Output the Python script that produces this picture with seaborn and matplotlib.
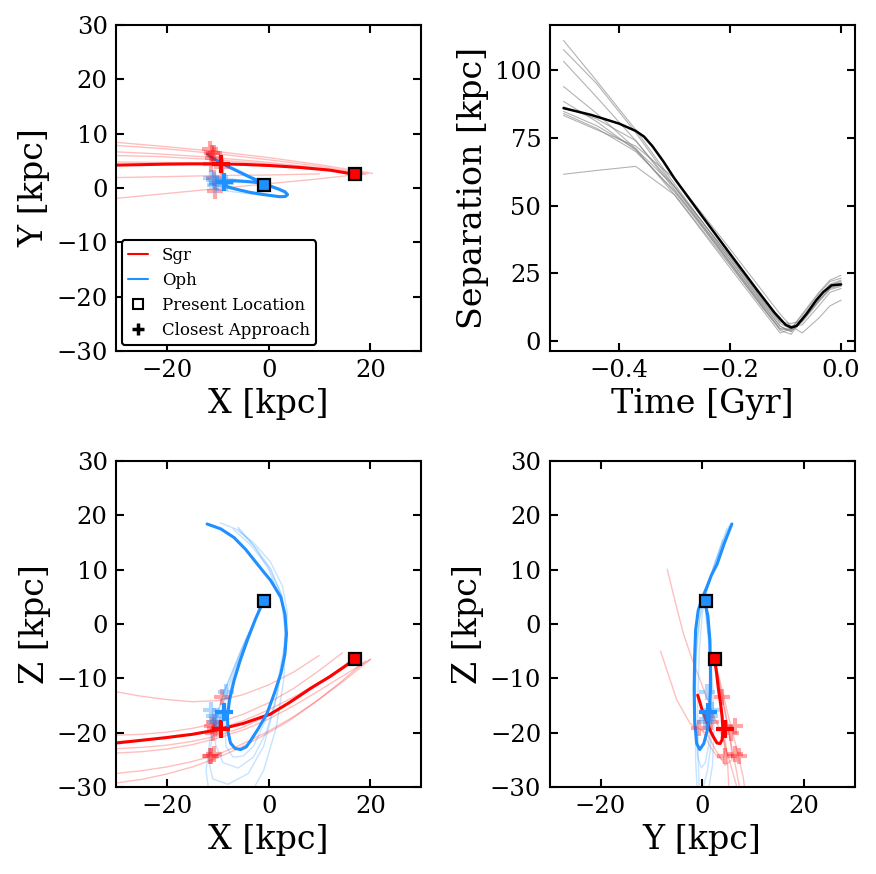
import matplotlib
matplotlib.use("Agg")
from matplotlib import pyplot as plt
from matplotlib.lines import Line2D
import seaborn as sns

# ---------------- data ----------------
SGR_COLOR = "red"
OPH_COLOR = "dodgerblue"

# present locations (x, y, z) [kpc]
sgr_now = (17.0, 2.5, -6.4)
oph_now = (-1.0, 0.65, 4.3)

# closest approach of the fiducial orbits
sgr_ca = (-9.4, 4.4, -19.3)
oph_ca = (-8.8, 1.1, -16.2)

# closest approaches of the sampled orbits
sgr_ca_x = [-9.1, -11.2, -11.0, -11.5, -10.8, -11.3, -10.5, -10.8]
sgr_ca_y = [3.9, 6.5, 5.6, 7.2, 6.5, 4.5, -0.6, 1.8]
sgr_ca_z = [-13.4, -18.8, -20.0, -24.2, -24.0, -24.3, -19.2, -18.0]
oph_ca_x = [-8.3, -10.8, -10.5, -11.3, -10.2]
oph_ca_y = [0.9, 1.5, 0.5, 1.9, 1.0]
oph_ca_z = [-12.5, -17.0, -18.0, -15.8, -17.5]

# ---- X-Y projection ----
sgr_xy_x = [17.0, 12.0, 6.0, 0.0, -5.0, -10.0, -15.0, -20.0, -25.0, -31.0]
sgr_xy_y = [2.5, 3.3, 3.8, 4.15, 4.35, 4.45, 4.45, 4.4, 4.3, 4.2]
oph_xy_x = [-1.0, -3.0, -5.0, -7.0, -8.2, -8.6, -8.0, -6.0, -3.7, -1.0, 1.0, 2.2,
            3.3, 3.7, 3.2, 2.0, 0.9, -1.0, -3.7, -6.0, -8.3, -10.3, -12.1]
oph_xy_y = [0.8, 1.1, 1.25, 1.35, 1.3, 0.8, 0.2, -0.3, -0.8, -1.2, -1.45, -1.6,
            -1.55, -1.2, -0.7, -0.2, 0.15, 0.9, 2.0, 3.05, 4.1, 5.1, 6.2]

sgr_xy_samples = [
    ([20.4, 10.0, 0.0, -10.0, -20.0, -31.0], [2.7, 4.3, 5.6, 6.7, 7.6, 8.5]),
    ([19.5, 10.0, 0.0, -10.0, -20.0, -31.0], [2.6, 4.0, 5.2, 6.3, 7.2, 7.9]),
    ([18.5, 8.0, -2.0, -12.0, -22.0, -31.0], [2.6, 3.9, 4.9, 5.7, 6.3, 6.7]),
    ([18.0, 8.0, -2.0, -12.0, -22.0, -31.0], [2.5, 3.7, 4.6, 5.3, 5.8, 6.0]),
    ([10.0, 0.0, -10.0, -20.0, -31.0], [2.6, 2.4, 2.3, 2.1, 1.9]),
    ([17.5, 10.0, 0.0, -10.0, -20.0, -31.0], [2.5, 1.7, 0.8, -0.1, -1.0, -2.0]),
    ([19.0, 10.0, 0.0, -10.0, -20.0, -31.0], [2.5, 3.4, 4.1, 4.5, 4.7, 4.8]),
]
oph_xy_samples = [
    ([-1.0, -4.0, -7.5, -10.0, -11.2, -10.8, -8.5, -5.0, -1.5, 1.5, 3.2, 3.6, 2.5, 0.5, -2.0, -5.0],
     [0.8, 1.2, 1.5, 1.6, 1.3, 0.6, 0.0, -0.6, -1.1, -1.5, -1.5, -1.1, -0.3, 0.4, 1.3, 2.6]),
    ([-1.0, -4.5, -8.0, -10.8, -12.0, -11.6, -9.0, -5.5, -2.0, 1.0, 3.0, 3.5, 2.6, 0.8, -1.5],
     [0.8, 1.3, 1.8, 2.1, 1.8, 1.0, 0.2, -0.5, -1.0, -1.4, -1.5, -1.1, -0.4, 0.3, 1.1]),
    ([-1.0, -4.2, -7.8, -10.5, -11.8, -11.5, -9.5, -6.0, -2.5, 0.8, 2.9, 3.6, 3.0, 1.2, -1.0, -4.0, -7.0],
     [0.8, 1.0, 1.1, 1.0, 0.6, 0.0, -0.4, -0.8, -1.2, -1.5, -1.7, -1.4, -0.8, -0.1, 0.8, 2.0, 3.4]),
    ([-1.0, -4.0, -7.2, -9.0, -9.5, -8.5, -6.0, -3.0, 0.0, 2.5, 3.9, 3.4, 1.5, -0.5, -3.5, -7.0, -10.0],
     [0.8, 1.2, 1.5, 1.6, 1.2, 0.5, -0.2, -0.8, -1.3, -1.7, -1.4, -0.6, 0.1, 0.9, 2.2, 3.8, 5.0]),
]

# ---- X-Z projection ----
sgr_xz_x = [17.0, 14.8, 12.0, 8.3, 4.0, 0.3, -5.0, -10.2, -15.0, -20.1, -25.0, -31.0]
sgr_xz_z = [-6.4, -7.9, -9.7, -11.8, -14.5, -16.6, -18.3, -19.5, -20.3, -20.9, -21.4, -22.0]
oph_xz_x = [-1.0, -2.6, -4.2, -5.6, -6.8, -7.7, -8.1, -8.0, -7.5, -6.6, -5.5, -4.4, -3.5,
            -2.0, -0.3, 1.1, 2.4, 3.2, 3.5, 3.2, 2.4, 0.4, -1.0, -2.2, -4.5, -6.8, -9.4, -12.1]
oph_xz_z = [4.3, 0.9, -3.0, -6.7, -10.4, -14.0, -17.1, -19.8, -21.9, -22.9, -23.1, -22.6, -21.4,
            -19.2, -16.4, -12.8, -9.1, -5.5, -1.8, 1.8, 4.9, 8.0, 9.6, 11.0, 13.7, 15.9, 17.5, 18.4]

sgr_xz_samples = [
    ([9.9, 5.0, 0.0, -5.0, -10.0, -15.0, -20.0, -25.0, -31.0],
     [-5.8, -8.8, -11.2, -13.0, -14.1, -14.3, -13.9, -13.3, -12.3]),
    ([14.5, 10.0, 5.0, 0.0, -5.0, -10.0, -15.0, -20.0, -25.0, -31.0],
     [-5.3, -8.5, -11.8, -14.5, -16.6, -18.2, -19.2, -19.9, -20.3, -20.5]),
    ([17.5, 12.0, 6.0, 0.0, -5.0, -10.0, -15.0, -20.0, -25.0, -31.0],
     [-6.6, -9.6, -12.9, -15.8, -17.8, -19.3, -20.3, -21.0, -21.4, -21.7]),
    ([16.5, 12.0, 6.0, 0.0, -5.0, -10.0, -15.0, -20.0, -25.0, -31.0],
     [-6.6, -9.5, -13.5, -16.8, -19.0, -20.6, -21.6, -22.3, -22.7, -23.0]),
    ([20.0, 15.0, 10.0, 5.0, 0.0, -5.0, -10.0, -15.0, -20.0, -25.0, -31.0],
     [-6.5, -9.3, -12.2, -15.0, -17.5, -19.5, -21.0, -22.2, -23.0, -23.5, -23.8]),
    ([20.0, 15.0, 10.0, 5.0, 0.0, -5.0, -10.0, -15.0, -20.0, -25.0, -31.0],
     [-6.5, -10.3, -13.8, -17.0, -19.7, -22.0, -24.0, -25.3, -26.3, -27.0, -27.6]),
    ([19.0, 14.0, 9.0, 4.0, 0.0, -5.0, -10.0, -15.0, -20.0, -25.0, -31.0],
     [-6.8, -10.8, -14.5, -17.8, -20.0, -22.5, -24.6, -26.3, -27.6, -28.6, -29.4]),
]
oph_xz_samples = [
    ([-1.0, -4.5, -7.5, -9.5, -10.5, -9.0, -6.0, -3.0, -0.5, 1.5, 3.0, 3.4, 2.5, 0.0, -3.5, -7.0],
     [4.3, -3.0, -10.5, -17.0, -22.0, -25.5, -26.5, -24.5, -20.0, -13.5, -6.0, 0.0, 5.5, 10.5, 14.5, 17.5]),
    ([-1.0, -5.0, -8.5, -10.8, -11.8, -11.0, -8.0, -4.0, -1.0, 1.2, 2.8, 3.3, 2.6, 0.5, -2.5, -6.0],
     [4.3, -4.0, -12.0, -19.0, -25.0, -28.5, -29.5, -27.5, -22.5, -15.0, -7.0, -0.5, 5.0, 10.0, 14.0, 17.5]),
    ([-1.0, -5.3, -9.0, -11.5, -12.3, -11.8, -10.5, -8.0, -4.0, -1.0, 1.5, 3.0, 3.3, 2.5, 0.0, -3.0, -6.0],
     [4.3, -4.5, -13.0, -21.0, -27.0, -30.5, -33.0, -34.0, -32.0, -27.0, -19.0, -10.0, -2.0, 4.5, 10.0, 14.5, 17.8]),
    ([-1.0, -4.4, -7.2, -8.6, -8.4, -7.0, -5.0, -3.0, -0.5, 1.8, 3.3, 3.7, 2.7, 0.3, -3.0, -6.5, -9.5],
     [4.3, -3.0, -10.5, -17.5, -22.5, -24.5, -24.3, -22.5, -17.5, -10.5, -3.0, 2.0, 7.0, 11.5, 15.0, 17.5, 18.6]),
]

# ---- Y-Z projection ----
sgr_yz_y = [2.4, 2.8, 3.2, 3.6, 3.9, 4.05, 3.9, 3.5, 2.9, 2.2, 1.5, 0.9, 0.4, -0.1, -0.5, -0.9]
sgr_yz_z = [-6.3, -9.0, -12.2, -14.7, -17.1, -19.5, -21.3, -22.0, -21.9, -20.8, -19.5, -18.0,
            -16.8, -15.6, -14.3, -13.1]
oph_yz_y = [0.45, 1.1, 1.5, 1.6, 1.6, 1.4, 1.0, 0.3, -0.5, -1.1, -1.5, -1.6, -1.5, -1.3,
            -0.8, 0.0, 0.9, 1.8, 2.9, 4.3, 5.8]
oph_yz_z = [4.3, 1.5, -3.0, -8.0, -12.0, -16.0, -19.5, -22.0, -23.1, -22.0, -18.0, -12.0,
            -6.0, -1.0, 2.5, 4.8, 6.8, 9.0, 11.0, 14.8, 18.4]

sgr_yz_samples = [
    ([2.4, 3.6, 5.0, 6.5, 8.0, 8.6, 7.6, 6.8, 4.2, 1.6, -0.4, -2.0, -3.7, -5.3, -6.9],
     [-6.3, -11.0, -16.5, -22.0, -28.0, -32.0, -33.0, -30.0, -21.4, -15.3, -10.4, -6.5, -1.8, 4.0, 10.1]),
    ([2.4, 3.4, 4.6, 5.6, 5.8, 4.5, 2.5, 0.9, -2.4, -5.0, -8.2],
     [-6.3, -11.0, -16.5, -21.5, -25.0, -26.0, -23.0, -20.1, -18.3, -14.0, -5.0]),
    ([2.4, 3.3, 4.4, 5.4, 6.4, 7.3], [-6.3, -11.0, -16.0, -21.0, -25.5, -30.0]),
    ([2.4, 3.2, 4.0, 4.6, 5.0, 5.2], [-6.3, -11.5, -17.0, -22.0, -26.0, -30.0]),
    ([2.4, 3.0, 3.7, 4.2, 4.4, 4.1, 3.0, 1.5, 0.0],
     [-6.3, -11.0, -16.0, -20.5, -23.5, -25.0, -24.5, -22.5, -19.5]),
]
oph_yz_samples = [
    ([0.45, 1.3, 1.8, 1.9, 1.6, 1.0, 0.2, -0.5, -1.0, -1.3, -1.4, -1.2, -0.5, 0.5, 1.8, 3.2, 4.8],
     [4.3, -3.0, -10.0, -17.0, -23.0, -27.0, -30.0, -32.0, -31.0, -25.0, -15.0, -6.0, 1.0, 5.0, 9.0, 13.0, 17.5]),
    ([0.45, 1.2, 1.6, 1.6, 1.3, 0.6, -0.2, -0.9, -1.3, -1.4, -1.1, -0.4, 0.6, 2.0, 3.6, 5.2],
     [4.3, -3.0, -10.0, -17.0, -22.0, -25.5, -26.5, -24.5, -18.0, -10.0, -3.0, 2.0, 6.0, 10.0, 14.0, 18.0]),
    ([0.45, 1.5, 2.1, 2.3, 2.0, 1.3, 0.5], [4.3, -4.0, -12.0, -20.0, -26.0, -30.0, -33.0]),
    ([-0.5, -0.8, -0.9, -0.6, 0.0, 1.0, 2.4, 4.0], [-33.0, -25.0, -15.0, -5.0, 2.0, 6.5, 11.0, 15.5]),
]

# ---- separation vs time ----
sep_t = [-0.5, -0.45, -0.40, -0.37, -0.355, -0.34, -0.32, -0.30, -0.25, -0.20, -0.15, -0.12,
         -0.10, -0.09, -0.08, -0.062, -0.045, -0.032, -0.017, 0.0]
sep_main = [86.0, 83.5, 80.3, 77.6, 75.5, 72.0, 66.3, 60.0, 46.0, 32.2, 18.5, 10.5,
            6.0, 5.0, 5.6, 10.1, 15.0, 18.1, 20.6, 20.9]
sep_t_samples = [-0.5, -0.44, -0.37, -0.30, -0.20, -0.14, -0.11, -0.09, -0.07, -0.04, -0.02, 0.0]
sep_samples = [
    [111.0, 96.0, 78.0, 58.0, 30.0, 13.5, 5.5, 3.5, 7.5, 15.0, 19.5, 21.5],
    [107.6, 95.0, 77.0, 57.0, 29.0, 12.5, 4.5, 4.0, 8.5, 16.5, 21.0, 22.5],
    [103.3, 90.0, 74.0, 56.0, 28.5, 12.0, 4.5, 4.5, 9.5, 17.5, 22.0, 23.2],
    [94.0, 84.0, 71.0, 54.0, 27.0, 11.0, 3.0, 4.5, 10.0, 18.0, 22.5, 24.3],
    [88.5, 81.0, 70.5, 55.0, 29.0, 13.0, 5.5, 3.5, 8.5, 16.5, 20.5, 21.5],
    [84.8, 79.5, 71.0, 57.0, 31.0, 15.0, 7.5, 5.5, 6.0, 13.0, 18.0, 19.4],
    [84.0, 78.5, 70.0, 55.5, 30.0, 14.0, 6.5, 4.5, 7.0, 14.5, 19.0, 20.2],
    [83.3, 78.0, 72.0, 60.0, 34.0, 18.0, 10.0, 5.5, 3.0, 8.5, 13.0, 15.1],
    [61.6, 63.0, 64.5, 54.0, 28.0, 12.0, 4.0, 2.5, 8.0, 16.0, 20.5, 22.1],
    [86.5, 82.0, 74.0, 57.0, 31.0, 14.5, 7.0, 6.5, 7.5, 15.0, 19.5, 20.5],
]

# ---------------- style ----------------
sns.set_theme(style="ticks")
plt.rcParams["font.family"] = ["DejaVu Serif"]
plt.rcParams["mathtext.fontset"] = "dejavuserif"
for key in ["text.color", "axes.labelcolor", "xtick.color", "ytick.color", "axes.edgecolor"]:
    plt.rcParams[key] = "black"


def trace(ax, xs, ys, color, lw, alpha=1.0):
    sns.lineplot(x=xs, y=ys, sort=False, estimator=None, color=color,
                 lw=lw, alpha=alpha, ax=ax, legend=False)


def style_axis(ax):
    ax.tick_params(direction="in", top=True, right=True, length=6, width=1.5,
                   labelsize=17.5, pad=6, colors="black")
    for sp in ax.spines.values():
        sp.set_linewidth(1.5)
        sp.set_color("black")


def orbit_panel(ax, sgr_x, sgr_y, oph_x, oph_y, sgr_samples, oph_samples, ia, ib):
    for xs, ys in sgr_samples:
        trace(ax, xs, ys, SGR_COLOR, 1.0, 0.25)
    for xs, ys in oph_samples:
        trace(ax, xs, ys, OPH_COLOR, 1.0, 0.25)
    trace(ax, sgr_x, sgr_y, SGR_COLOR, 2.2)
    trace(ax, oph_x, oph_y, OPH_COLOR, 2.2)
    cs = [sgr_ca_x, sgr_ca_y, sgr_ca_z]
    co = [oph_ca_x, oph_ca_y, oph_ca_z]
    ax.plot(cs[ia], cs[ib], "+", color=SGR_COLOR, ms=12, mew=3, alpha=0.35, ls="none")
    ax.plot(co[ia], co[ib], "+", color=OPH_COLOR, ms=12, mew=3, alpha=0.35, ls="none")
    ax.plot(sgr_ca[ia], sgr_ca[ib], "+", color=SGR_COLOR, ms=13, mew=3)
    ax.plot(oph_ca[ia], oph_ca[ib], "+", color=OPH_COLOR, ms=13, mew=3)
    ax.plot(sgr_now[ia], sgr_now[ib], "s", color=SGR_COLOR, ms=8.5, mec="black", mew=1.6)
    ax.plot(oph_now[ia], oph_now[ib], "s", color=OPH_COLOR, ms=8.5, mec="black", mew=1.6)
    ax.set_xlim(-30, 30)
    ax.set_ylim(-30, 30)
    ax.set_xticks([-20, 0, 20])
    ax.set_yticks([-30, -20, -10, 0, 10, 20, 30])
    style_axis(ax)


fig, axes = plt.subplots(2, 2, figsize=(8.76, 8.74), dpi=100)
fig.subplots_adjust(left=0.1324, right=0.976, top=0.9714, bottom=0.0995,
                    wspace=0.42, hspace=0.337)
LABEL_SIZE = 24

# X-Y
ax = axes[0, 0]
orbit_panel(ax, sgr_xy_x, sgr_xy_y, oph_xy_x, oph_xy_y, sgr_xy_samples, oph_xy_samples, 0, 1)
ax.set_xlabel("X [kpc]", fontsize=LABEL_SIZE)
ax.set_ylabel("Y [kpc]", fontsize=LABEL_SIZE)
handles = [
    Line2D([], [], color=SGR_COLOR, lw=1.5, label="Sgr"),
    Line2D([], [], color=OPH_COLOR, lw=1.5, label="Oph"),
    Line2D([], [], ls="none", marker="s", ms=7, mfc="white", mec="black", mew=1.5,
           label="Present Location"),
    Line2D([], [], ls="none", marker="+", ms=9, color="black", mew=2.5,
           label="Closest Approach"),
]
leg = ax.legend(handles=handles, loc="lower left", fontsize=12, handlelength=1.2,
                handletextpad=0.8, labelspacing=0.47, borderaxespad=0.35,
                frameon=True, fancybox=True, framealpha=1)
leg.get_frame().set_edgecolor("black")
leg.get_frame().set_linewidth(1.5)

# separation
ax = axes[0, 1]
for s in sep_samples:
    trace(ax, sep_t_samples, s, "gray", 0.8, 0.6)
trace(ax, sep_t, sep_main, "black", 1.8)
ax.set_xlim(-0.525, 0.025)
ax.set_ylim(-3.7, 116.7)
ax.set_xticks([-0.4, -0.2, 0.0])
ax.set_yticks([0, 25, 50, 75, 100])
ax.set_xlabel("Time [Gyr]", fontsize=LABEL_SIZE)
ax.set_ylabel("Separation [kpc]", fontsize=LABEL_SIZE)
style_axis(ax)

# X-Z
ax = axes[1, 0]
orbit_panel(ax, sgr_xz_x, sgr_xz_z, oph_xz_x, oph_xz_z, sgr_xz_samples, oph_xz_samples, 0, 2)
ax.set_xlabel("X [kpc]", fontsize=LABEL_SIZE)
ax.set_ylabel("Z [kpc]", fontsize=LABEL_SIZE)

# Y-Z
ax = axes[1, 1]
orbit_panel(ax, sgr_yz_y, sgr_yz_z, oph_yz_y, oph_yz_z, sgr_yz_samples, oph_yz_samples, 1, 2)
ax.set_xlabel("Y [kpc]", fontsize=LABEL_SIZE)
ax.set_ylabel("Z [kpc]", fontsize=LABEL_SIZE)

fig.savefig("out.png", dpi=100)
